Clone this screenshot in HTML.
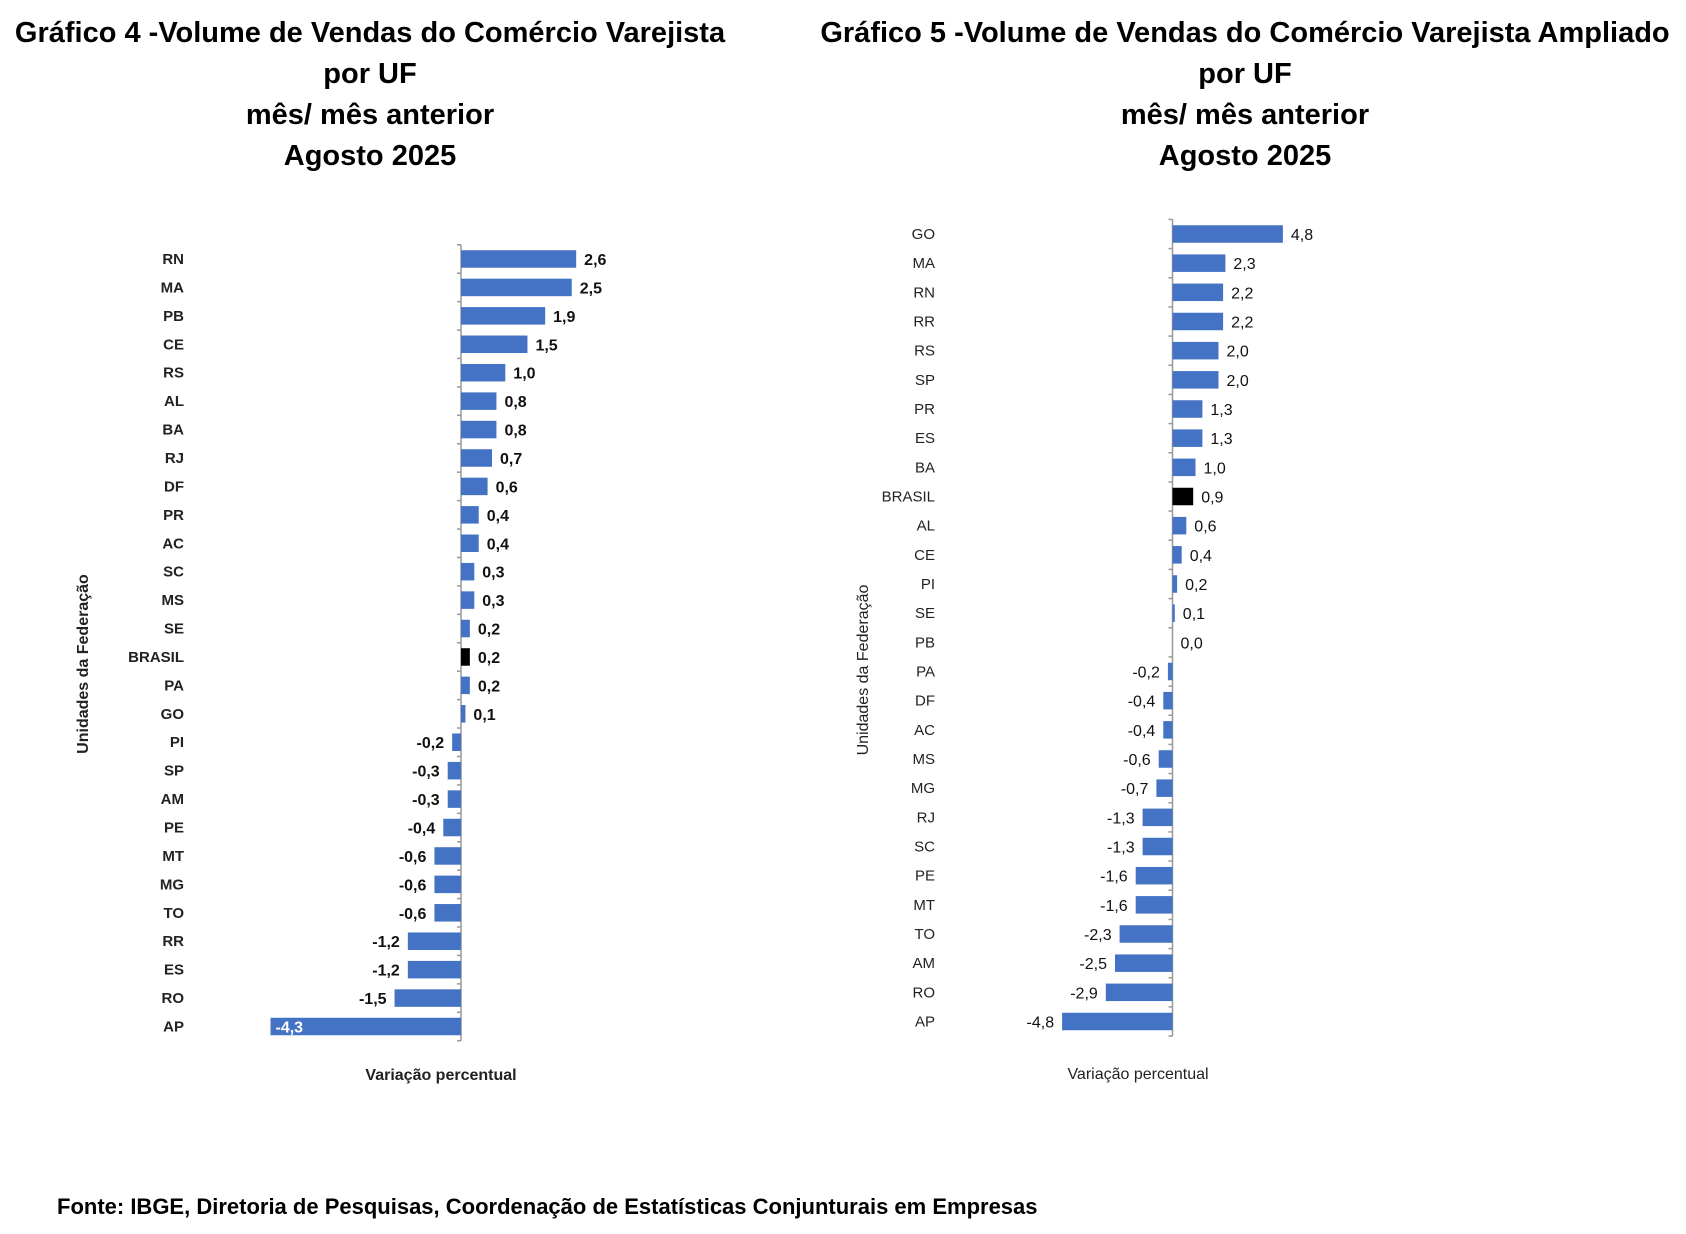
<!DOCTYPE html>
<html><head><meta charset="utf-8"><style>
body{margin:0;background:#fff;width:1686px;height:1234px;overflow:hidden;font-family:"Liberation Sans Narrow","Liberation Sans",sans-serif}
svg{position:absolute;left:0;top:0}
</style></head><body>
<svg id="c" width="1686" height="1234" xmlns="http://www.w3.org/2000/svg"></svg>
<script>
const cat4=["RN","MA","PB","CE","RS","AL","BA","RJ","DF","PR","AC","SC","MS","SE","BRASIL","PA","GO","PI","SP","AM","PE","MT","MG","TO","RR","ES","RO","AP"];
const val4=[2.6,2.5,1.9,1.5,1.0,0.8,0.8,0.7,0.6,0.4,0.4,0.3,0.3,0.2,0.2,0.2,0.1,-0.2,-0.3,-0.3,-0.4,-0.6,-0.6,-0.6,-1.2,-1.2,-1.5,-4.3];
const cat5=["GO","MA","RN","RR","RS","SP","PR","ES","BA","BRASIL","AL","CE","PI","SE","PB","PA","DF","AC","MS","MG","RJ","SC","PE","MT","TO","AM","RO","AP"];
const val5=[4.8,2.3,2.2,2.2,2.0,2.0,1.3,1.3,1.0,0.9,0.6,0.4,0.2,0.1,0.0,-0.2,-0.4,-0.4,-0.6,-0.7,-1.3,-1.3,-1.6,-1.6,-2.3,-2.5,-2.9,-4.8];
</script>
<script>
const NS="http://www.w3.org/2000/svg";
const svg=document.getElementById('c');
function mk(t,a,txt){const e=document.createElementNS(NS,t);for(const k in a)e.setAttribute(k,a[k]);if(txt!==undefined)e.textContent=txt;svg.appendChild(e);return e;}
function fmt(v){return v.toFixed(1).replace('.',',');}
function draw(cats,vals,o){
  const n=cats.length;
  const sp=(o.y1-o.y0)/(n-1);
  const xs=v=>o.ax+v*o.k;
  const ys=i=>o.y0+i*sp;
  const ax=mk('line',{x1:o.ax,x2:o.ax,y1:o.y0-sp/2,y2:o.y1+sp/2,stroke:'#999','stroke-width':1.5});
  
  for(let i=0;i<=n;i++){const t=mk('line',{x1:o.ax-4,x2:o.ax,y1:o.y0-sp/2+i*sp,y2:o.y0-sp/2+i*sp,stroke:'#999','stroke-width':1.5});}
  cats.forEach((c,i)=>{
    const v=vals[i],y=ys(i),x=Math.min(xs(0),xs(v)),w=Math.abs(xs(v)-xs(0));
    const r=mk('rect',{x:x,y:y-o.bh/2,width:Math.max(w,v===0?0:1),height:o.bh,fill:c==='BRASIL'?'#000':'#4472C4'});
    
    const l=mk('text',{x:o.lx,y:y+5,'text-anchor':'end','font-size':o.fs,'font-weight':o.fw,fill:'#222'},c);
    
    let tx,anchor,col='#111';
    if(v>=0){tx=xs(v)+8;anchor='start';}
    else if(w>150){tx=x+5;anchor='start';col='#fff';}
    else{tx=x-8;anchor='end';}
    const vl=mk('text',{x:tx,y:y+6,'text-anchor':anchor,'font-size':o.fs+1,'font-weight':o.fw,fill:col},fmt(v));
    
  });
}
function titles(cx,lines,id){lines.forEach((s,i)=>{const t=mk('text',{x:cx,y:42+i*41,'text-anchor':'middle','font-size':29,'font-weight':'bold','font-family':'Liberation Sans, sans-serif',fill:'#000'},s);});}
titles(370,["Gráfico 4 -Volume de Vendas do Comércio Varejista","por UF","mês/ mês anterior","Agosto 2025"],'chart4');
titles(1245,["Gráfico 5 -Volume de Vendas do Comércio Varejista Ampliado","por UF","mês/ mês anterior","Agosto 2025"],'chart5');
draw(cat4,val4,{id:'chart4',ax:461,k:44.3,y0:259,y1:1026.5,bh:17.5,lx:184,fs:15,fw:'bold'});
draw(cat5,val5,{id:'chart5',ax:1172.5,k:23,y0:234,y1:1021.5,bh:17.5,lx:935,fs:15,fw:'normal'});
function at(x,y,s,rot,name,w){const t=mk('text',{x:x,y:y,'text-anchor':'middle','font-size':16,'font-weight':w,fill:'#222',transform:rot?`rotate(-90 ${x} ${y})`:''},s);}
at(88,664,'Unidades da Federação',true,'chart4-y-axis-title','bold');
at(868,670,'Unidades da Federação',true,'chart5-y-axis-title','normal');
at(441,1080,'Variação percentual',false,'chart4-x-axis-title','bold');
at(1138,1079,'Variação percentual',false,'chart5-x-axis-title','normal');
const f=mk('text',{x:57,y:1214,'font-size':22,'font-weight':'bold','font-family':'Liberation Sans Narrow, Liberation Sans, sans-serif',fill:'#000'},'Fonte: IBGE, Diretoria de Pesquisas, Coordenação de Estatísticas Conjunturais em Empresas');

</script>
</body></html>
